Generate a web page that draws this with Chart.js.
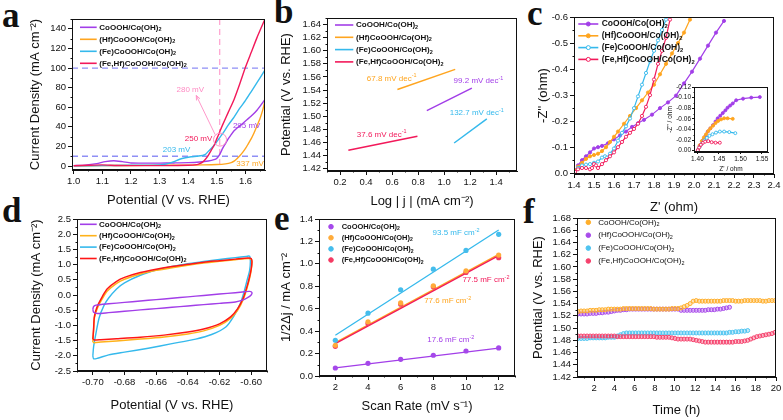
<!DOCTYPE html>
<html><head><meta charset="utf-8">
<script src="https://cdn.jsdelivr.net/npm/chart.js@4.4.1/dist/chart.umd.min.js"></script>
<style>
html,body{margin:0;padding:0;background:#fff;width:783px;height:420px;overflow:hidden;position:relative;}
canvas{position:absolute;}
.lab{position:absolute;font:bold 35px "Liberation Serif","Times New Roman",serif;color:#111;line-height:35px;}
</style></head><body>
<div class="lab" style="left:2px;top:-2px">a</div>
<div class="lab" style="left:274px;top:-6px">b</div>
<div class="lab" style="left:527px;top:-4px">c</div>
<div class="lab" style="left:2px;top:193px">d</div>
<div class="lab" style="left:274px;top:201px">e</div>
<div class="lab" style="left:523px;top:194px">f</div>
<script>
// ================= DATA =================
// (a) LSV curves: potential (V vs RHE) / current density (mA cm-2)
const aPurpleX=[1.00,1.04,1.08,1.11,1.14,1.17,1.20,1.25,1.30,1.35,1.40,1.44,1.47,1.49,1.50,1.51,1.52,1.53,1.54,1.55,1.56,1.58,1.60,1.62,1.64,1.668];
const aPurpleY=[0.5,1.0,2.5,4.5,5.5,4.5,3.2,3.0,3.0,3.2,3.5,4.2,5.2,6.5,8,12,18,23,28,32,36,41,46,51,57,68];
const aOrangeX=[1.00,1.10,1.20,1.30,1.40,1.45,1.50,1.53,1.55,1.56,1.57,1.58,1.59,1.60,1.61,1.62,1.63,1.64,1.65,1.66,1.668];
const aOrangeY=[0.3,0.5,0.6,0.8,1.0,1.2,1.6,2.3,3.5,5,7.5,10.5,14,18,23,28,34,41,48,57,67];
const aCyanX=[1.00,1.10,1.20,1.30,1.33,1.35,1.37,1.39,1.41,1.43,1.45,1.46,1.47,1.48,1.49,1.50,1.52,1.54,1.56,1.58,1.60,1.62,1.64,1.668];
const aCyanY=[0.2,0.5,0.8,1.2,2.5,4.5,7,8.5,9.5,10,10.8,12,15,18,21,25,33,42,50,59,67,76,85,98];
const aRedX=[1.00,1.05,1.10,1.15,1.20,1.30,1.40,1.43,1.44,1.45,1.46,1.47,1.48,1.49,1.50,1.51,1.52,1.54,1.56,1.58,1.60,1.62,1.64,1.668];
const aRedY=[0.3,0.8,1.2,0.6,0.5,0.5,0.8,1.5,2.5,4,7,11,16,21,28,35,42,55,68,84,101,116,131,150];
const aXTicks=[1.0,1.1,1.2,1.3,1.4,1.5,1.6];
const aYTicks=[0,20,40,60,80,100,120,140];

// (b) Tafel segments: log|j| / potential
const bPurpleX=[0.867,1.213], bPurpleY=[1.5086,1.5431];
const bOrangeX=[0.641,1.085], bOrangeY=[1.541,1.5716];
const bCyanX=[1.077,1.328],  bCyanY=[1.4592,1.4962];
const bRedX=[0.264,0.795],   bRedY=[1.448,1.4694];
const bXTicks=[0.2,0.4,0.6,0.8,1.0,1.2,1.4];
const bYTicks=[1.42,1.44,1.46,1.48,1.50,1.52,1.54,1.56,1.58,1.60,1.62,1.64];

// (c) Nyquist: Z' / -Z''
const cPurpleX=[1.405,1.42,1.44,1.46,1.48,1.50,1.52,1.54,1.57,1.60,1.63,1.66,1.69,1.72,1.75,1.79,1.83,1.87,1.91,1.95,1.99,2.03,2.07,2.11,2.15];
const cPurpleY=[-0.01,-0.03,-0.05,-0.065,-0.08,-0.095,-0.10,-0.105,-0.115,-0.13,-0.145,-0.16,-0.178,-0.192,-0.205,-0.225,-0.25,-0.272,-0.298,-0.345,-0.39,-0.44,-0.49,-0.54,-0.585];
const cOrangeX=[1.405,1.42,1.44,1.46,1.48,1.50,1.52,1.54,1.56,1.58,1.60,1.62,1.65,1.68,1.71,1.74,1.77,1.80,1.83,1.86,1.89,1.92,1.95,1.98];
const cOrangeY=[-0.01,-0.025,-0.04,-0.055,-0.065,-0.07,-0.075,-0.085,-0.10,-0.12,-0.14,-0.16,-0.19,-0.22,-0.25,-0.28,-0.31,-0.34,-0.38,-0.42,-0.46,-0.50,-0.54,-0.59];
const cCyanX=[1.405,1.42,1.44,1.46,1.48,1.50,1.52,1.54,1.555,1.565,1.58,1.60,1.62,1.64,1.66,1.68,1.70,1.72,1.74,1.76,1.78,1.80,1.82,1.84,1.86];
const cCyanY=[-0.005,-0.02,-0.03,-0.033,-0.035,-0.04,-0.045,-0.06,-0.065,-0.06,-0.075,-0.095,-0.125,-0.155,-0.18,-0.21,-0.25,-0.295,-0.34,-0.385,-0.43,-0.47,-0.51,-0.55,-0.59];
const cRedX=[1.405,1.42,1.44,1.46,1.48,1.49,1.50,1.51,1.52,1.54,1.56,1.58,1.60,1.62,1.64,1.66,1.68,1.70,1.72,1.74,1.76,1.78,1.80,1.82,1.84,1.86,1.88];
const cRedY=[-0.005,-0.015,-0.02,-0.02,-0.015,-0.02,-0.035,-0.03,-0.02,-0.035,-0.05,-0.065,-0.08,-0.1,-0.12,-0.14,-0.155,-0.17,-0.19,-0.22,-0.255,-0.3,-0.36,-0.42,-0.47,-0.52,-0.59];
const cXTicks=[1.4,1.5,1.6,1.7,1.8,1.9,2.0,2.1,2.2,2.3,2.4];
const cYTicks=[-0.6,-0.5,-0.4,-0.3,-0.2,-0.1,0.0];
// (c) inset
const iPurpleX=[1.401,1.406,1.413,1.419,1.424,1.430,1.436,1.442,1.447,1.453,1.459,1.465,1.470,1.476,1.482,1.490,1.506,1.525,1.545];
const iPurpleY=[-0.001,-0.01,-0.02,-0.028,-0.036,-0.042,-0.048,-0.055,-0.061,-0.066,-0.071,-0.076,-0.081,-0.085,-0.089,-0.095,-0.098,-0.100,-0.101];
const iOrangeX=[1.401,1.405,1.41,1.415,1.42,1.425,1.43,1.436,1.442,1.448,1.455,1.462,1.470,1.482];
const iOrangeY=[-0.001,-0.01,-0.018,-0.025,-0.031,-0.037,-0.042,-0.047,-0.052,-0.056,-0.059,-0.061,-0.061,-0.060];
const iCyanX=[1.401,1.405,1.41,1.416,1.422,1.428,1.435,1.443,1.452,1.462,1.474,1.488];
const iCyanY=[-0.001,-0.007,-0.013,-0.019,-0.024,-0.028,-0.031,-0.034,-0.036,-0.036,-0.035,-0.033];
const iRedX=[1.401,1.404,1.408,1.413,1.418,1.425,1.433,1.442,1.452];
const iRedY=[-0.001,-0.006,-0.011,-0.015,-0.017,-0.018,-0.016,-0.015,-0.015];
const iXTicks=[1.40,1.45,1.50,1.55];
const iYTicks=[-0.12,-0.10,-0.08,-0.06,-0.04,-0.02,0.00];

// (d) CV loops: potential / current density
const dPurpleX=[-0.7000,-0.6995,-0.698,-0.690,-0.680,-0.670,-0.660,-0.650,-0.640,-0.630,-0.620,-0.610,-0.604,-0.601,-0.5995,-0.600,-0.602,-0.605,-0.610,-0.620,-0.630,-0.640,-0.650,-0.660,-0.670,-0.680,-0.690,-0.697,-0.6995,-0.7000];
const dPurpleY=[-0.47,-0.38,-0.335,-0.29,-0.244,-0.198,-0.152,-0.107,-0.061,-0.015,0.031,0.076,0.108,0.12,0.08,0.0,-0.08,-0.16,-0.23,-0.275,-0.318,-0.36,-0.405,-0.447,-0.49,-0.535,-0.58,-0.61,-0.57,-0.47];
const dCyanX=[-0.7000,-0.6995,-0.698,-0.696,-0.693,-0.690,-0.685,-0.680,-0.670,-0.660,-0.650,-0.640,-0.630,-0.620,-0.610,-0.603,-0.601,-0.6005,-0.601,-0.6025,-0.6045,-0.607,-0.611,-0.616,-0.625,-0.635,-0.650,-0.665,-0.680,-0.690,-0.697,-0.6995,-0.7000];
const dCyanY=[-2.0,-1.7,-1.25,-0.75,-0.35,-0.1,0.2,0.4,0.65,0.82,0.94,1.03,1.1,1.17,1.23,1.27,1.28,1.1,0.8,0.5,0.1,-0.3,-0.7,-1.05,-1.3,-1.45,-1.6,-1.75,-1.88,-1.97,-2.08,-2.1,-2.0];
const dRedX=[-0.7000,-0.6995,-0.699,-0.697,-0.694,-0.691,-0.685,-0.680,-0.670,-0.660,-0.650,-0.640,-0.630,-0.620,-0.610,-0.602,-0.600,-0.5995,-0.600,-0.601,-0.6025,-0.605,-0.6085,-0.613,-0.620,-0.630,-0.640,-0.655,-0.670,-0.685,-0.695,-0.699,-0.7000];
const dRedY=[-1.45,-1.1,-0.7,-0.35,-0.05,0.2,0.45,0.58,0.74,0.85,0.94,1.01,1.08,1.13,1.18,1.22,1.2,1.1,0.85,0.6,0.3,-0.1,-0.45,-0.72,-0.95,-1.12,-1.22,-1.32,-1.39,-1.44,-1.47,-1.48,-1.45];
const dOrangeX=[-0.7000,-0.6995,-0.699,-0.697,-0.694,-0.691,-0.685,-0.680,-0.670,-0.660,-0.650,-0.640,-0.630,-0.620,-0.610,-0.602,-0.600,-0.5995,-0.600,-0.601,-0.6025,-0.605,-0.6085,-0.613,-0.620,-0.630,-0.640,-0.655,-0.670,-0.685,-0.695,-0.699,-0.7000];
const dOrangeY=[-1.55,-1.15,-0.75,-0.42,-0.12,0.12,0.38,0.52,0.69,0.81,0.9,0.98,1.05,1.11,1.16,1.2,1.18,1.08,0.82,0.55,0.25,-0.15,-0.5,-0.77,-1.0,-1.18,-1.28,-1.38,-1.45,-1.51,-1.55,-1.57,-1.55];
const dXTicks=[-0.70,-0.68,-0.66,-0.64,-0.62,-0.60];
const dYTicks=[-2.5,-2.0,-1.5,-1.0,-0.5,0.0,0.5,1.0,1.5,2.0,2.5];

// (e) double-layer capacitance
const eScan=[2,4,6,8,10,12];
const ePurple=[0.0715,0.113,0.149,0.185,0.223,0.25];
const eOrange=[0.274,0.483,0.652,0.804,0.938,1.078];
const eCyan=[0.319,0.56,0.769,0.953,1.12,1.263];
const eRed=[0.265,0.468,0.64,0.795,0.924,1.055];
const eFitX=[2,12];
const ePurpleFit=[0.072,0.248];
const eOrangeFit=[0.298,1.085];
const eCyanFit=[0.363,1.302];
const eRedFit=[0.289,1.073];
const eXTicks=[2,4,6,8,10,12];
const eYTicks=[0.0,0.2,0.4,0.6,0.8,1.0,1.2,1.4];

// (f) stability: time (h) / potential
const fTime=[0.4,0.7,1.0,1.3,1.6,1.9,2.2,2.5,2.8,3.1,3.4,3.7,4.0,4.3,4.6,4.9,5.2,5.5,5.8,6.1,6.4,6.7,7.0,7.3,7.6,7.9,8.2,8.5,8.8,9.1,9.4,9.7,10.0,10.3,10.6,10.9,11.2,11.5,11.8,12.1,12.4,12.7,13.0,13.3,13.6,13.9,14.2,14.5,14.8,15.1,15.4,15.7,16.0,16.3,16.6,16.9,17.2,17.5,17.8,18.1,18.4,18.7,19.0,19.3,19.6,19.9];
const fOrange=[1.527,1.528,1.528,1.528,1.529,1.529,1.529,1.530,1.530,1.530,
 1.531,1.531,1.531,1.531,1.531,1.532,1.532,1.532,1.532,1.532,
 1.532,1.532,1.532,1.532,1.532,1.531,1.531,1.531,1.531,1.531,
 1.531,1.532,1.532,1.532,1.533,1.535,1.537,1.540,1.544,1.545,
 1.544,1.544,1.544,1.544,1.544,1.544,1.544,1.544,1.545,1.545,
 1.545,1.545,1.544,1.544,1.544,1.545,1.545,1.545,1.545,1.545,
 1.545,1.544,1.544,1.545,1.545,1.545];
const fPurple=[1.523,1.523,1.523,1.523,1.524,1.524,1.524,1.525,1.525,1.526,
 1.526,1.527,1.528,1.529,1.529,1.530,1.530,1.531,1.531,1.531,
 1.531,1.531,1.531,1.531,1.531,1.531,1.531,1.531,1.531,1.531,
 1.531,1.531,1.531,1.531,1.529,1.529,1.529,1.529,1.529,1.529,
 1.529,1.529,1.529,1.530,1.530,1.530,1.531,1.531,1.532,1.533,1.534];
const fCyan=[1.483,1.483,1.483,1.483,1.484,1.484,1.484,1.484,1.484,1.484,
 1.485,1.485,1.485,1.487,1.489,1.491,1.492,1.492,1.492,1.492,
 1.492,1.492,1.492,1.492,1.492,1.492,1.492,1.492,1.492,1.492,
 1.492,1.492,1.492,1.492,1.492,1.492,1.492,1.492,1.492,1.492,
 1.492,1.492,1.492,1.492,1.492,1.492,1.492,1.492,1.492,1.492,
 1.493,1.493,1.494,1.494,1.495,1.495,1.496];
const fRed=[1.487,1.487,1.487,1.487,1.487,1.487,1.487,1.487,1.487,1.487,
 1.487,1.487,1.487,1.486,1.486,1.486,1.486,1.486,1.486,1.486,
 1.486,1.486,1.486,1.486,1.486,1.486,1.485,1.485,1.485,1.485,
 1.485,1.484,1.483,1.482,1.482,1.482,1.482,1.482,1.481,1.480,
 1.479,1.478,1.477,1.477,1.477,1.477,1.477,1.477,1.477,1.477,
 1.477,1.477,1.478,1.478,1.478,1.479,1.480,1.482,1.484,1.486,
 1.487,1.488,1.489,1.490,1.491,1.493];
const fXTicks=[2,4,6,8,10,12,14,16,18,20];
const fYTicks=[1.42,1.44,1.46,1.48,1.50,1.52,1.54,1.56,1.58,1.60,1.62,1.64,1.66,1.68];

// labels
const L1='CoOOH/Co(OH)_{2}', L2='(Hf)CoOOH/Co(OH)_{2}', L3='(Fe)CoOOH/Co(OH)_{2}', L4='(Fe,Hf)CoOOH/Co(OH)_{2}';

// ================= STYLE / HELPERS =================
const FONT='"Liberation Sans", Arial, sans-serif';
const PURPLE='#a23ee8', ORANGE='#ffa51f', CYAN='#35b9ec', RED='#f2195a', PINK='#ff8cc4', DASHB='#8f8ff5';
const D_RED='#ff1616', D_ORANGE='#ffb21a';
const pts=(xs,ys)=>xs.map((x,i)=>({x,y:ys[i]}));

function richText(ctx,str,x,y,size,weight,color,align){
  const segs=[]; const re=/(\^|_)\{([^}]*)\}/g; let last=0,m;
  while((m=re.exec(str))){ if(m.index>last) segs.push({t:str.slice(last,m.index),k:''}); segs.push({t:m[2],k:m[1]}); last=re.lastIndex; }
  if(last<str.length) segs.push({t:str.slice(last),k:''});
  const f=s=>`${weight} ${s}px ${FONT}`;
  let w=0; for(const s of segs){ ctx.font=f(s.k?size*0.68:size); s.w=ctx.measureText(s.t).width; w+=s.w; }
  let cx= align==='center'? x-w/2 : (align==='right'? x-w : x);
  ctx.fillStyle=color; ctx.textAlign='left'; ctx.textBaseline='middle';
  for(const s of segs){ ctx.font=f(s.k?size*0.68:size); const dy= s.k==='^'? -size*0.33 : (s.k==='_'? size*0.3 : 0); ctx.fillText(s.t,cx,y+dy); cx+=s.w; }
}
function minors(scale){
  const t=scale.ticks.map(k=>k.value), out=[]; if(t.length<2) return out;
  const step=t[1]-t[0], lo=Math.min(scale.min,scale.max), hi=Math.max(scale.min,scale.max);
  for(let i=-1;i<t.length;i++){ const v=t[0]+step*(i+0.5); if(v>=lo-1e-9&&v<=hi+1e-9) out.push(v); }
  return out;
}
function makeDeco(o){
  return {
    id:'deco',
    beforeDatasetsDraw(chart){
      const {ctx,chartArea:ca,scales:{x,y}}=chart;
      ctx.save();
      if(o.bg){ ctx.fillStyle='#fff'; ctx.fillRect(ca.left,ca.top,ca.width,ca.height); }
      ctx.beginPath(); ctx.rect(ca.left,ca.top,ca.width,ca.height); ctx.clip();
      (o.hlines||[]).forEach(h=>{ ctx.strokeStyle=h.color; ctx.lineWidth=h.w||1.2; ctx.setLineDash(h.dash||[5,3]); const py=y.getPixelForValue(h.y); ctx.beginPath(); ctx.moveTo(ca.left,py); ctx.lineTo(ca.right,py); ctx.stroke(); });
      (o.vlines||[]).forEach(h=>{ ctx.strokeStyle=h.color; ctx.lineWidth=h.w||1.2; ctx.setLineDash(h.dash||[5,3]); const px=x.getPixelForValue(h.x); ctx.beginPath(); ctx.moveTo(px,ca.top); ctx.lineTo(px,ca.bottom); ctx.stroke(); });
      ctx.restore();
    },
    afterDatasetsDraw(chart){
      const {ctx,chartArea:ca,scales:{x,y}}=chart;
      ctx.save();
      (o.circles||[]).forEach(c=>{ ctx.strokeStyle=c.color; ctx.lineWidth=1; ctx.beginPath(); ctx.arc(x.getPixelForValue(c.x),y.getPixelForValue(c.y),c.r,0,Math.PI*2); ctx.stroke(); });
      (o.arrows||[]).forEach(a=>{ const x1=x.getPixelForValue(a.x1),y1=y.getPixelForValue(a.y1),x2=x.getPixelForValue(a.x2),y2=y.getPixelForValue(a.y2);
        ctx.strokeStyle=a.color; ctx.lineWidth=0.9; ctx.beginPath(); ctx.moveTo(x1,y1); ctx.lineTo(x2,y2); ctx.stroke();
        const an=Math.atan2(y2-y1,x2-x1); ctx.beginPath(); ctx.moveTo(x2-5*Math.cos(an-0.4),y2-5*Math.sin(an-0.4)); ctx.lineTo(x2,y2); ctx.lineTo(x2-5*Math.cos(an+0.4),y2-5*Math.sin(an+0.4)); ctx.stroke(); });
      (o.texts||[]).forEach(t=>richText(ctx,t.t,x.getPixelForValue(t.x),y.getPixelForValue(t.y),t.size||8,'normal',t.color,'center'));
      // frame
      ctx.strokeStyle='#111'; ctx.lineWidth=1; ctx.setLineDash([]);
      const l=Math.round(ca.left)+0.5,t=Math.round(ca.top)+0.5,r=Math.round(ca.right)-0.5,b=Math.round(ca.bottom)-0.5;
      ctx.strokeRect(l,t,r-l,b-t);
      // minor ticks
      const ml=o.minorLen||2;
      ctx.beginPath();
      minors(x).forEach(v=>{ const px=Math.round(x.getPixelForValue(v))+0.5; ctx.moveTo(px,b); ctx.lineTo(px,b+ml); });
      minors(y).forEach(v=>{ const py=Math.round(y.getPixelForValue(v))+0.5; ctx.moveTo(l,py); ctx.lineTo(l-ml,py); });
      ctx.stroke();
      // legend
      const L=o.legend;
      if(L){ L.items.forEach((it,i)=>{ const yy=L.y+i*L.dy;
        if(L.x1!==undefined){ ctx.strokeStyle=it.color; ctx.lineWidth=1.6; ctx.beginPath(); ctx.moveTo(L.x0,yy); ctx.lineTo(L.x1,yy); ctx.stroke(); }
        if(L.px!==undefined){ ctx.fillStyle=it.fill||it.color; ctx.strokeStyle=it.color; ctx.lineWidth=1; ctx.beginPath(); ctx.arc(L.px,yy,L.pr||2.3,0,Math.PI*2); ctx.fill(); ctx.stroke(); }
        richText(ctx,it.t,L.tx,yy,L.size||8,L.weight||'bold','#111','left'); }); }
      ctx.restore();
    }
  };
}
function mkScale(o){
  return {
    type:'linear', min:o.min, max:o.max, reverse:!!o.reverse, position:o.pos,
    afterBuildTicks:s=>{ s.ticks=o.ticks.map(v=>({value:v})); },
    afterFit:s=>{ if(o.pos==='bottom'){ s.height=o.px; s.paddingLeft=0; s.paddingRight=0; } else { s.width=o.px; s.paddingTop=0; s.paddingBottom=0; } },
    ticks:{ autoSkip:false, maxRotation:0, minRotation:0, padding:o.tpad!==undefined?o.tpad:2, color:'#111', font:{family:FONT,size:o.tsize}, callback:v=>Number(v).toFixed(o.dec) },
    grid:{ drawOnChartArea:false, drawTicks:true, tickLength:o.tl, color:'#111', lineWidth:1 },
    border:{ display:true, color:'#111', width:1 },
    title:{ display:true, text:o.title, color:'#111', font:{family:FONT,size:o.fs}, padding:0 }
  };
}
function addPanel(cfg){
  const {box,area,yTitleCX,xTitleCY}=cfg;
  const fs=cfg.titleSize||13, half=fs*1.2/2, tsize=cfg.tickSize||9.5, tl=cfg.tickLen||4;
  const c=document.createElement('canvas'); c.width=box.w; c.height=box.h;
  c.style.left=box.x+'px'; c.style.top=box.y+'px'; document.body.appendChild(c);
  const pad={left:yTitleCX-half-box.x, top:area.t-box.y, right:box.x+box.w-area.r, bottom:box.y+box.h-(xTitleCY+half)};
  const xPx=xTitleCY+half-area.b, yPx=area.l-box.x-pad.left;
  new Chart(c,{type:'scatter',data:{datasets:cfg.datasets},options:{
    responsive:false, animation:false, devicePixelRatio:1, events:[],
    layout:{padding:pad, autoPadding:false},
    scales:{ x:mkScale({...cfg.x,pos:'bottom',px:xPx,fs,tsize,tl}), y:mkScale({...cfg.y,pos:'left',px:yPx,fs,tsize,tl}) },
    plugins:{legend:{display:false},tooltip:{enabled:false}},
    elements:{point:{radius:0}, line:{borderWidth:1.3}}
  },plugins:[makeDeco(cfg.deco||{})]});
}
const lineDs=(xs,ys,color,w,tension)=>({data:pts(xs,ys),showLine:true,borderColor:color,backgroundColor:color,borderWidth:w||1.3,pointRadius:0,tension:tension||0});
const mkLineDs=(xs,ys,color,fill,r)=>({data:pts(xs,ys),showLine:true,borderColor:color,backgroundColor:color,borderWidth:1.2,pointRadius:r||1.6,pointBorderWidth:0.9,pointBorderColor:color,pointBackgroundColor:fill});

// ================= PANELS =================
// (a)
addPanel({box:{x:0,y:0,w:272,h:215}, area:{l:72,t:19,r:265,b:170}, yTitleCX:35, xTitleCY:200,
  x:{min:0.994,max:1.668,ticks:aXTicks,dec:1,title:'Potential (V vs. RHE)'},
  y:{min:-4,max:150,ticks:aYTicks,dec:0,title:'Current Density (mA cm⁻²)'},
  datasets:[lineDs(aRedX,aRedY,RED,1.4,0.2),lineDs(aCyanX,aCyanY,CYAN,1.4,0.2),lineDs(aPurpleX,aPurpleY,PURPLE,1.4,0.2),lineDs(aOrangeX,aOrangeY,ORANGE,1.4,0.2)],
  deco:{hlines:[{y:100,color:DASHB,dash:[6,4],w:1.3},{y:10,color:DASHB,dash:[6,4],w:1.3}], vlines:[{x:1.51,color:PINK,dash:[6,4],w:1}],
    circles:[{x:1.511,y:27,r:6.5,color:PINK}], arrows:[{x1:1.494,y1:32,x2:1.428,y2:72,color:PINK}],
    texts:[{x:1.407,y:78,t:'280 mV',color:PINK},{x:1.436,y:28,t:'250 mV',color:RED},{x:1.359,y:16.3,t:'203 mV',color:CYAN},{x:1.604,y:40.8,t:'295 mV',color:PURPLE},{x:1.616,y:2.8,t:'337 mV',color:ORANGE}],
    legend:{x0:80,x1:96.7,tx:99.3,y:27.3,dy:12,items:[{t:L1,color:PURPLE},{t:L2,color:ORANGE},{t:L3,color:CYAN},{t:L4,color:RED}]}}
});
// (b)
addPanel({box:{x:262,y:0,w:262,h:215}, area:{l:327,t:18,r:517,b:171}, yTitleCX:286.7, xTitleCY:201.7,
  x:{min:0.1,max:1.56,ticks:bXTicks,dec:1,title:'Log | j | (mA cm⁻²)'},
  y:{min:1.4165,max:1.65,ticks:bYTicks,dec:2,title:'Potential (V vs. RHE)'},
  datasets:[lineDs(bPurpleX,bPurpleY,PURPLE,1.5),lineDs(bOrangeX,bOrangeY,ORANGE,1.5),lineDs(bCyanX,bCyanY,CYAN,1.5),lineDs(bRedX,bRedY,RED,1.5)],
  deco:{texts:[{x:0.597,y:1.5575,t:'67.8 mV dec^{-1}',color:ORANGE},{x:1.264,y:1.554,t:'99.2 mV dec^{-1}',color:PURPLE},{x:1.251,y:1.505,t:'132.7 mV dec^{-1}',color:CYAN},{x:0.52,y:1.472,t:'37.6 mV dec^{-1}',color:RED}],
    legend:{x0:73,x1:91.3,tx:94,y:25,dy:12.3,items:[{t:L1,color:PURPLE},{t:L2,color:ORANGE},{t:L3,color:CYAN},{t:L4,color:RED}]}}
});
// (c)
addPanel({box:{x:524,y:0,w:259,h:215}, area:{l:574,t:17,r:774,b:174}, yTitleCX:543, xTitleCY:207,
  x:{min:1.4,max:2.4,ticks:cXTicks,dec:1,title:"Z' (ohm)"},
  y:{min:-0.6,max:0.003,reverse:true,ticks:cYTicks,dec:1,title:"-Z'' (ohm)"},
  datasets:[mkLineDs(cRedX,cRedY,RED,'#fff'),mkLineDs(cCyanX,cCyanY,CYAN,'#fff'),mkLineDs(cOrangeX,cOrangeY,ORANGE,ORANGE),mkLineDs(cPurpleX,cPurpleY,PURPLE,PURPLE)],
  deco:{legend:{x0:54.3,x1:74.3,px:64.3,pr:2,tx:77.7,y:24,dy:11.8,size:8.5,items:[{t:L1,color:PURPLE},{t:L2,color:ORANGE},{t:L3,color:CYAN,fill:'#fff'},{t:L4,color:RED,fill:'#fff'}]}}
});
// (c) inset
addPanel({box:{x:660,y:80,w:116,h:96}, area:{l:694,t:87,r:768,b:152}, yTitleCX:670, xTitleCY:169, titleSize:6.5, tickSize:6.5, tickLen:2,
  x:{min:1.392,max:1.564,ticks:iXTicks,dec:2,title:"Z' / ohm",tpad:1},
  y:{min:-0.12,max:0.0025,reverse:true,ticks:iYTicks,dec:2,title:"-Z'' / ohm",tpad:1},
  datasets:[mkLineDs(iRedX,iRedY,RED,'#fff',1.5),mkLineDs(iCyanX,iCyanY,CYAN,'#fff',1.5),mkLineDs(iOrangeX,iOrangeY,ORANGE,ORANGE,1.5),mkLineDs(iPurpleX,iPurpleY,PURPLE,PURPLE,1.5)],
  deco:{bg:true,minorLen:1}
});
// (d)
addPanel({box:{x:0,y:205,w:272,h:215}, area:{l:77,t:219,r:267,b:371}, yTitleCX:36.7, xTitleCY:405,
  x:{min:-0.71,max:-0.59,ticks:dXTicks,dec:2,title:'Potential (V vs. RHE)'},
  y:{min:-2.5,max:2.5,ticks:dYTicks,dec:1,title:'Current Density (mA cm⁻²)'},
  datasets:[lineDs(dPurpleX,dPurpleY,PURPLE,1.4,0.25),lineDs(dRedX,dRedY,D_RED,1.5,0.25),lineDs(dOrangeX,dOrangeY,D_ORANGE,1.5,0.25),lineDs(dCyanX,dCyanY,CYAN,1.4,0.25)],
  deco:{legend:{x0:80,x1:96.7,tx:99,y:19.3,dy:11.4,items:[{t:L1,color:PURPLE},{t:L2,color:D_ORANGE},{t:L3,color:CYAN},{t:L4,color:D_RED}]}}
});
// (e)
const ptDs=(xs,ys,color)=>({data:pts(xs,ys),showLine:false,pointRadius:2.6,pointBorderWidth:0,backgroundColor:color,borderColor:color});
addPanel({box:{x:262,y:205,w:262,h:215}, area:{l:319,t:219,r:515,b:376}, yTitleCX:286.7, xTitleCY:406.7,
  x:{min:1,max:13,ticks:eXTicks,dec:0,title:'Scan Rate (mV s⁻¹)'},
  y:{min:0,max:1.4,ticks:eYTicks,dec:1,title:'1/2Δj / mA cm⁻²'},
  datasets:[ptDs(eScan,ePurple,'#a548ea'),ptDs(eScan,eCyan,'#45bdec'),ptDs(eScan,eOrange,'#ffab3a'),ptDs(eScan,eRed,'#f43a62'),
    lineDs(eFitX,ePurpleFit,PURPLE,1.3),lineDs(eFitX,eCyanFit,CYAN,1.3),lineDs(eFitX,eRedFit,RED,1.3),lineDs(eFitX,eOrangeFit,ORANGE,1.3)],
  deco:{texts:[{x:9.39,y:1.273,t:'93.5 mF cm^{-2}',color:CYAN},{x:11.22,y:0.855,t:'77.5 mF cm^{-2}',color:RED},{x:8.88,y:0.671,t:'77.6 mF cm^{-2}',color:ORANGE},{x:9.07,y:0.319,t:'17.6 mF cm^{-2}',color:PURPLE}],
    legend:{px:69,pr:2.3,tx:79.7,y:21.7,dy:11.1,size:7.5,items:[{t:L1,color:'#a548ea'},{t:L2,color:'#ffab3a'},{t:L3,color:'#45bdec'},{t:L4,color:'#f43a62'}]}}
});
// (f)
const fDs=(ys,color)=>({data:pts(fTime.slice(0,ys.length),ys),showLine:false,pointRadius:2,pointBorderWidth:1,borderColor:color,backgroundColor:color+'55'});
addPanel({box:{x:524,y:205,w:259,h:215}, area:{l:577,t:218,r:776,b:377}, yTitleCX:538.3, xTitleCY:410,
  x:{min:0.3,max:20,ticks:fXTicks,dec:0,title:'Time (h)'},
  y:{min:1.42,max:1.68,ticks:fYTicks,dec:2,title:'Potential (V vs. RHE)'},
  datasets:[fDs(fRed,'#f5416c'),fDs(fCyan,'#4fc4f0'),fDs(fOrange,'#ffae2a'),fDs(fPurple,'#a84cea')],
  deco:{legend:{px:64.3,pr:2.3,tx:74.3,y:17.3,dy:12.9,size:8,weight:'normal',items:[{t:L1,color:'#ffae2a'},{t:L2,color:'#a84cea'},{t:L3,color:'#4fc4f0'},{t:L4,color:'#f5416c'}]}}
});
</script>
</body></html>
